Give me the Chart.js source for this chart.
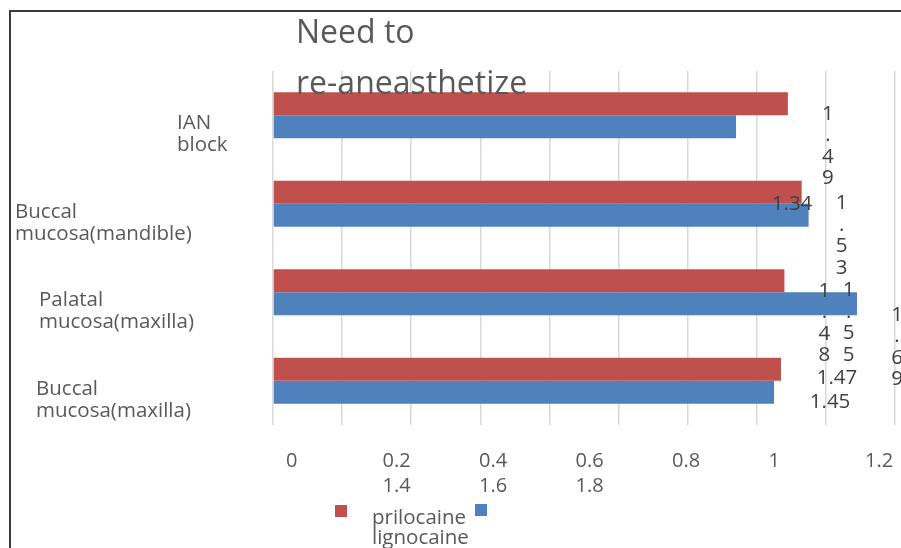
<!DOCTYPE html>
<html><head><meta charset="utf-8">
<script src="https://cdn.jsdelivr.net/npm/chart.js@4.4.1/dist/chart.umd.min.js"></script>
<style>
html,body{margin:0;padding:0;background:#fff;}
#wrap{position:relative;width:901px;height:548px;overflow:hidden;background:#fff;}
#frame{position:absolute;left:9px;top:10px;width:1000px;height:1000px;border-left:2px solid #3c3c3c;border-top:2px solid #3c3c3c;pointer-events:none;}
canvas{position:absolute;left:0;top:0;}
</style></head><body>
<div id="wrap"><canvas id="c" width="901" height="548"></canvas><div id="frame"></div></div>
<script>
// ---- data ----
const categories = [['IAN','block'], ['Buccal','mucosa(mandible)'], ['Palatal','mucosa(maxilla)'], ['Buccal','mucosa(maxilla)']];
const seriesNames = ['prilocaine', 'lignocaine'];
const prilocaine = [1.49, 1.53, 1.48, 1.47];
const lignocaine = [1.34, 1.55, 1.69, 1.45];
const titleLines = ['Need to', 're-aneasthetize'];
const tickRow1 = ['0', '0.2', '0.4', '0.6', '0.8', '1', '1.2'];
const tickRow2 = ['1.4', '1.6', '1.8'];

// ---- styles / layout ----
const colors = ['#c0504d', '#4f81bd'];
const FONT = '"Open Sans", "Liberation Sans", sans-serif';
const TEXT = '#595959';
const yLabelLeft = [177, 15, 39, 36];
const labelLayout = [
  {mode: ['v', 'v', 'v', 'h'], dy: [9, 10, 9, 8]},
  {mode: ['h', 'v', 'v', 'h'], dy: [76, 74, 10, 9]}
];

const overlay = {
  id: 'overlay',
  afterDatasetsDraw(chart) {
    const ctx = chart.ctx;
    const xs = chart.scales.x, ys = chart.scales.y;
    ctx.save();
    // y category labels
    ctx.fillStyle = TEXT;
    ctx.font = '20.5px ' + FONT;
    ctx.textAlign = 'left';
    ctx.textBaseline = 'alphabetic';
    categories.forEach((lines, i) => {
      const cy = ys.getPixelForValue(i);
      lines.forEach((t, k) => ctx.fillText(t, yLabelLeft[i], cy + 14 + k * 22));
    });
    // x tick labels (wrapped rows)
    ctx.font = '20px ' + FONT;
    const x0 = xs.left + 13, cell = 96.5;
    tickRow1.forEach((t, k) => ctx.fillText(t, x0 + k * cell, 467));
    tickRow2.forEach((t, k) => ctx.fillText(t, x0 + (k + 1) * cell, 492));
    // data labels
    ctx.fillStyle = '#404040';
    ctx.font = '20.5px ' + FONT;
    [prilocaine, lignocaine].forEach((arr, d) => {
      const meta = chart.getDatasetMeta(d);
      arr.forEach((v, i) => {
        const bar = meta.data[i];
        const s = v.toFixed(2);
        const mode = labelLayout[d].mode[i];
        const y0 = bar.y + labelLayout[d].dy[i];
        ctx.textAlign = 'center';
        if (mode === 'h') {
          ctx.fillText(s, bar.x + 56, y0 + 7);
        } else {
          s.split('').forEach((ch, k) => ctx.fillText(ch, bar.x + 40, y0 + 7 + k * 21.5));
        }
      });
    });
    // legend
    ctx.textAlign = 'left';
    ctx.fillStyle = colors[0];
    ctx.fillRect(335, 505, 12, 12);
    ctx.fillStyle = colors[1];
    ctx.fillRect(475, 504, 12, 12);
    ctx.fillStyle = TEXT;
    ctx.font = '20.5px ' + FONT;
    ctx.fillText(seriesNames[0], 372, 524);
    ctx.fillText(seriesNames[1], 372, 544);
    // title
    ctx.font = '32px ' + FONT;
    ctx.fillText(titleLines[0], 296, 43);
    ctx.fillText(titleLines[1], 296, 94);
    ctx.restore();
  }
};

new Chart(document.getElementById('c'), {
  type: 'bar',
  data: {
    labels: categories.map(c => c.join(' ')),
    datasets: [
      {label: seriesNames[0], data: prilocaine, backgroundColor: colors[0]},
      {label: seriesNames[1], data: lignocaine, backgroundColor: colors[1]}
    ]
  },
  options: {
    indexAxis: 'y',
    responsive: false,
    animation: false,
    devicePixelRatio: 1,
    categoryPercentage: 0.52,
    barPercentage: 1,
    layout: {padding: {left: 273, right: 6, top: 71, bottom: 123}},
    plugins: {legend: {display: false}, tooltip: {enabled: false}, title: {display: false}},
    scales: {
      x: {
        type: 'linear', min: 0, max: 1.8,
        ticks: {display: false, stepSize: 0.2},
        grid: {color: '#d9d9d9', lineWidth: 1.5, drawTicks: false},
        border: {display: false}
      },
      y: {display: false}
    }
  },
  plugins: [overlay]
});
</script>
</body></html>
